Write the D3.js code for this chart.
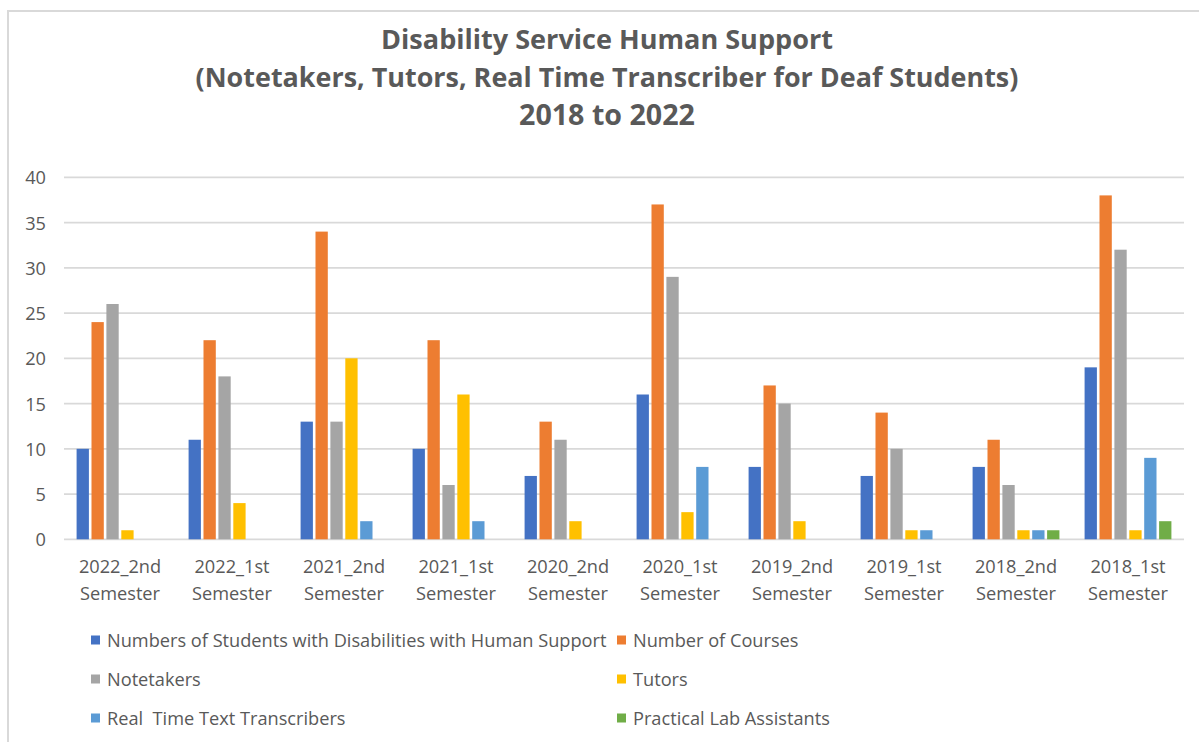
<!DOCTYPE html>
<html>
<head>
<meta charset="utf-8">
<script src="https://cdn.jsdelivr.net/npm/d3@7/dist/d3.min.js"></script>
<style>
  html, body { margin: 0; padding: 0; background: #fff; }
  svg { display: block; }
  text { font-family: "Open Sans", Lato, sans-serif; fill: #595959; }
</style>
</head>
<body>
<svg id="chart" width="1199" height="742"></svg>
<script>
// Semesters, newest first
const categories = ["2022_2nd Semester", "2022_1st Semester", "2021_2nd Semester", "2021_1st Semester",
  "2020_2nd Semester", "2020_1st Semester", "2019_2nd Semester", "2019_1st Semester",
  "2018_2nd Semester", "2018_1st Semester"];

const seriesNames = ["Numbers of Students with Disabilities with Human Support", "Number of Courses",
  "Notetakers", "Tutors", "Real  Time Text Transcribers", "Practical Lab Assistants"];

const students     = [10, 11, 13, 10, 7, 16, 8, 7, 8, 19];
const courses      = [24, 22, 34, 22, 13, 37, 17, 14, 11, 38];
const notetakers   = [26, 18, 13, 6, 11, 29, 15, 10, 6, 32];
const tutors       = [1, 4, 20, 16, 2, 3, 2, 1, 1, 1];
const transcribers = [0, 0, 2, 2, 0, 8, 0, 1, 1, 9];
const labAssistants = [0, 0, 0, 0, 0, 0, 0, 0, 1, 2];

const yTicks = [0, 5, 10, 15, 20, 25, 30, 35, 40];
const titleLines = ["Disability Service Human Support",
  "(Notetakers, Tutors, Real Time Transcriber for Deaf Students)",
  "2018 to 2022"];

const seriesValues = [students, courses, notetakers, tutors, transcribers, labAssistants];
const colors = ["#4472C4", "#ED7D31", "#A5A5A5", "#FFC000", "#5B9BD5", "#70AD47"];

const labelFont = "18.2px";
const svg = d3.select("#chart");

// outer frame of the chart area
svg.append("rect")
  .attr("x", 8).attr("y", 11).attr("width", 1300).attr("height", 800)
  .attr("fill", "none").attr("stroke", "#d9d9d9").attr("stroke-width", 2);

// title, each line fitted to its set width
const titleWidths = [452, 823, 176];
const titleBase = [49, 87, 125];
titleLines.forEach((t, i) => {
  const el = svg.append("text")
    .attr("x", 607).attr("y", titleBase[i])
    .attr("text-anchor", "middle")
    .style("font-weight", 700)
    .style("font-size", "22px")
    .text(t);
  const w = el.node().getComputedTextLength();
  el.style("font-size", (22 * titleWidths[i] / w).toFixed(2) + "px");
});

const plotLeft = 64, plotRight = 1184, yTop = 177.3, yBottom = 539.3;

const y = d3.scaleLinear().domain([0, 40]).range([yBottom, yTop]);
const x0 = d3.scaleBand().domain(categories).range([plotLeft, plotRight]).padding(0);
const x1 = d3.scaleBand().domain(d3.range(seriesNames.length))
  .range([0, x0.bandwidth()]).paddingInner(0).paddingOuter(0.758);

// horizontal gridlines
svg.append("g")
  .selectAll("line")
  .data(yTicks)
  .join("line")
  .attr("x1", plotLeft).attr("x2", plotRight)
  .attr("y1", d => y(d)).attr("y2", d => y(d))
  .attr("stroke", "#d9d9d9").attr("stroke-width", 1.8);

// y axis labels
const yAxis = d3.axisLeft(y).tickValues(yTicks).tickSize(0).tickPadding(0);
const gy = svg.append("g").attr("transform", "translate(46,0)").call(yAxis);
gy.select(".domain").remove();
gy.selectAll("text")
  .style("font-family", "'Open Sans', sans-serif")
  .style("font-size", labelFont)
  .attr("fill", "#595959")
  .attr("dy", "0.36em");

// bars
const gap = 2.6;
const groups = svg.append("g")
  .selectAll("g")
  .data(categories)
  .join("g")
  .attr("transform", d => `translate(${x0(d)},0)`);

groups.selectAll("rect")
  .data((d, ci) => seriesValues.map((vals, si) => ({ si, v: vals[ci] })))
  .join("rect")
  .attr("x", d => x1(d.si) + gap / 2)
  .attr("width", x1.bandwidth() - gap)
  .attr("y", d => y(d.v))
  .attr("height", d => y(0) - y(d.v))
  .attr("fill", d => colors[d.si]);

// category labels on two lines
const xAxis = d3.axisBottom(x0).tickSize(0).tickPadding(0);
const gx = svg.append("g").attr("transform", `translate(0,${yBottom})`).call(xAxis);
gx.select(".domain").remove();
gx.selectAll(".tick text").each(function (d) {
  const parts = d.split(" ");
  const t = d3.select(this).text(null)
    .attr("y", 0).attr("dy", null)
    .attr("fill", "#595959")
    .style("font-family", "'Open Sans', sans-serif")
    .style("font-size", labelFont);
  t.append("tspan").attr("x", 0).attr("y", 34).text(parts[0]);
  t.append("tspan").attr("x", 0).attr("y", 61).text(parts[1]);
});

// legend, two columns
const legendCols = [91, 617];
const legendRows = [640, 679, 718];
const legend = svg.append("g")
  .selectAll("g")
  .data(seriesNames)
  .join("g")
  .attr("transform", (d, i) => `translate(${legendCols[i % 2]},${legendRows[Math.floor(i / 2)]})`);
legend.append("rect")
  .attr("x", 0).attr("y", -4.5).attr("width", 9).attr("height", 9)
  .attr("fill", (d, i) => colors[i]);
legend.append("text")
  .attr("x", 16).attr("y", 0).attr("dy", "0.36em")
  .style("font-size", labelFont)
  .style("white-space", "pre")
  .attr("xml:space", "preserve")
  .text(d => d);
</script>
</body>
</html>
